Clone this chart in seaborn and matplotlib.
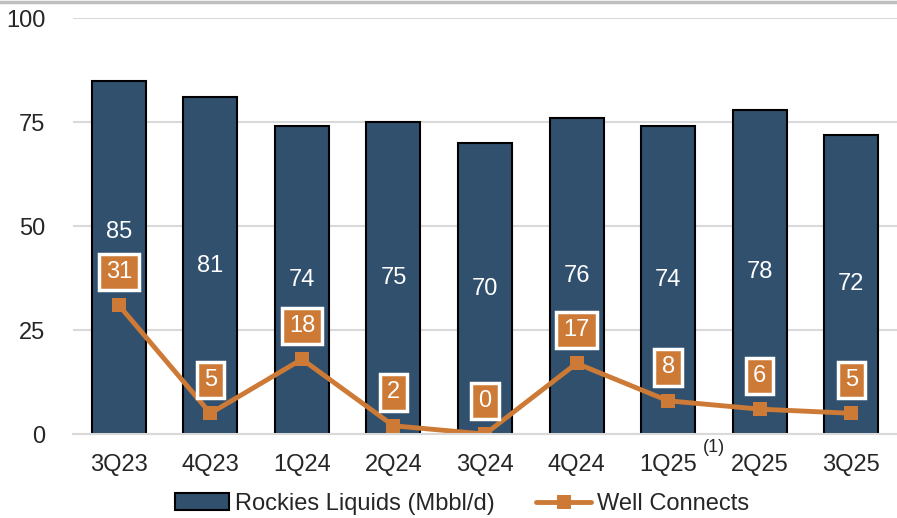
import numpy as np
import pandas as pd
import matplotlib.pyplot as plt
import seaborn as sns
from matplotlib.lines import Line2D

quarters = ['3Q23', '4Q23', '1Q24', '2Q24', '3Q24', '4Q24', '1Q25', '2Q25', '3Q25']
liquids = [85, 81, 74, 75, 70, 76, 74, 78, 72]
wells = [31, 5, 18, 2, 0, 17, 8, 6, 5]
yticks = [0, 25, 50, 75, 100]

navy = '#30506E'
orange = '#CC7A36'
grid = '#d9d9d9'

sns.set_style('white')
plt.rcParams['font.family'] = ['Liberation Sans', 'DejaVu Sans']

df = pd.DataFrame({'Quarter': quarters, 'Liquids': liquids, 'Wells': wells})

fig = plt.figure(figsize=(8.97, 5.18), dpi=100)
ax = fig.add_axes([0.0814, 0.162, 0.9186, 0.803])

sns.barplot(data=df, x='Quarter', y='Liquids', color=navy, width=0.59,
            edgecolor='black', linewidth=1.5, saturation=1, ax=ax,
            label='Rockies Liquids (Mbbl/d)')
sns.lineplot(data=df, x='Quarter', y='Wells', color=orange, lw=3.5, marker='s',
             markersize=10, markeredgewidth=0, sort=False, ax=ax,
             label='Well Connects')

# bar value labels (first one lifted to clear the well label)
lift = [6, 0, 0, 0, 0, 0, 0, 0, 0]
for i, v in enumerate(liquids):
    ax.text(i, v / 2 + lift[i], str(v), ha='center', va='center',
            color='white', fontsize=17)

for i, w in enumerate(wells):
    ax.annotate(str(w), xy=(i, w), xytext=(0, 24), textcoords='offset points',
                ha='center', va='center', color='white', fontsize=17,
                bbox=dict(boxstyle='square,pad=0.3', fc=orange, ec='white', lw=2.5))

ax.annotate('(1)', xy=(6, 0), xytext=(33, -10), textcoords='offset points',
            ha='center', va='center', fontsize=13, annotation_clip=False)

ax.set_ylim(0, 100)
ax.set_xlim(-0.5, len(quarters) - 0.5)
ax.set_yticks(yticks)
ax.set_xticks(np.arange(-0.5, len(quarters), 1), minor=True)
ax.yaxis.grid(True, color=grid, lw=1.5)
ax.set_axisbelow(True)
ax.tick_params(axis='y', length=0, pad=20, labelsize=17)
ax.tick_params(axis='x', which='major', length=0, pad=14, labelsize=17)
ax.tick_params(axis='x', which='minor', length=6, width=1.5, color=grid)
ax.set_xlabel('')
ax.set_ylabel('')
for s in ['top', 'left', 'right']:
    ax.spines[s].set_visible(False)
ax.spines['bottom'].set_color(grid)
ax.spines['bottom'].set_linewidth(1.5)

handles, labels = ax.get_legend_handles_labels()
ax.get_legend().remove()
order = [labels.index('Rockies Liquids (Mbbl/d)'), labels.index('Well Connects')]
fig.legend([handles[k] for k in order], [labels[k] for k in order],
           loc='center', bbox_to_anchor=(0.515, 0.027), ncol=2,
           frameon=False, fontsize=17, handlelength=2.3, handletextpad=0.25,
           columnspacing=1.75)

fig.add_artist(Line2D([0, 1], [0.997, 0.997], transform=fig.transFigure,
                      color='#bfbfbf', lw=2.5))

fig.savefig('out.png', dpi=100)
